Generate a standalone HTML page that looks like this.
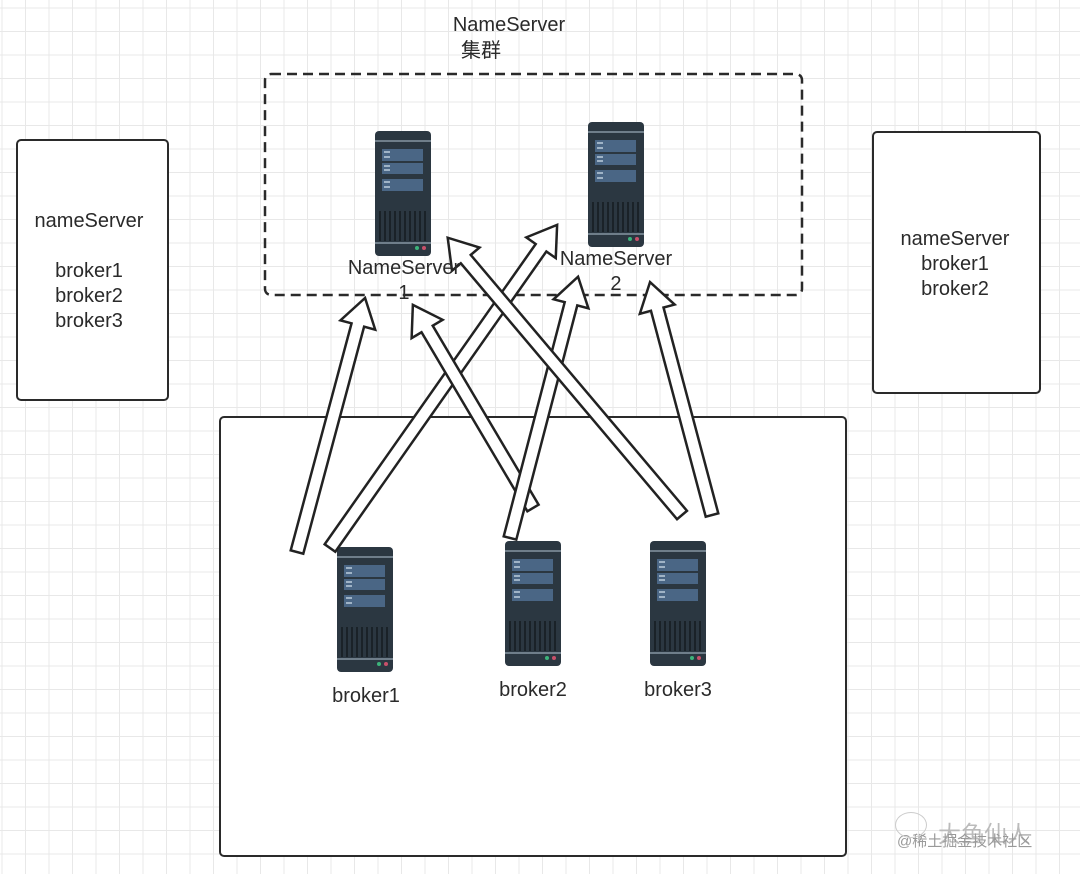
<!DOCTYPE html>
<html><head><meta charset="utf-8"><style>
html,body{margin:0;padding:0;}
body{width:1080px;height:874px;position:relative;overflow:hidden;background:#fff;
background-image:linear-gradient(#e8e8e8 1px,transparent 1px),linear-gradient(90deg,#e8e8e8 1px,transparent 1px);
background-size:23.5px 23.5px;background-position:1.5px 7.5px;
font-family:"Liberation Sans","Noto Sans CJK SC",sans-serif;color:#2a2a2a;}
.box{position:absolute;border:2px solid #2a2a2a;border-radius:5px;background:#fff;box-sizing:border-box;}
.t{position:absolute;font-size:20px;text-align:center;white-space:nowrap;line-height:25px;transform:translateX(-50%);}
svg{position:absolute;left:0;top:0;}
</style></head><body>
<div class="box" style="left:16px;top:139px;width:153px;height:262px"></div>
<div class="box" style="left:872px;top:131px;width:169px;height:263px"></div>
<div class="box" style="left:219px;top:416px;width:628px;height:441px"></div>
<svg width="1080" height="874" viewBox="0 0 1080 874">
<defs>
<symbol id="srv" viewBox="0 0 56 125">
<rect x="0" y="0" width="56" height="125" rx="4" fill="#2b3741"/>
<rect x="0" y="9" width="56" height="2" fill="#6f7e8a"/>
<rect x="7" y="18" width="41" height="12" fill="#4a6685"/>
<rect x="7" y="32" width="41" height="11" fill="#4a6685"/>
<rect x="7" y="48" width="41" height="12" fill="#4a6685"/>
<g fill="#9fb3c6"><rect x="9" y="20" width="6" height="2"/><rect x="9" y="25" width="6" height="2"/><rect x="9" y="34" width="6" height="2"/><rect x="9" y="38" width="6" height="2"/><rect x="9" y="50" width="6" height="2"/><rect x="9" y="55" width="6" height="2"/></g>
<g stroke="#141b21" stroke-width="1.5"><line x1="5" y1="80" x2="5" y2="110"/><line x1="10" y1="80" x2="10" y2="110"/><line x1="15" y1="80" x2="15" y2="110"/><line x1="20" y1="80" x2="20" y2="110"/><line x1="25" y1="80" x2="25" y2="110"/><line x1="30" y1="80" x2="30" y2="110"/><line x1="35" y1="80" x2="35" y2="110"/><line x1="40" y1="80" x2="40" y2="110"/><line x1="45" y1="80" x2="45" y2="110"/><line x1="50" y1="80" x2="50" y2="110"/></g>
<rect x="0" y="111" width="56" height="2" fill="#6f7e8a"/>
<circle cx="42" cy="117" r="2" fill="#3cb37a"/><circle cx="49" cy="117" r="2" fill="#c8506a"/>
</symbol>
</defs>
<rect x="265" y="74" width="537" height="221" rx="6" fill="none" stroke="#2a2a2a" stroke-width="2.5" stroke-dasharray="10,6"/>
<use href="#srv" x="375" y="131" width="56" height="125"/>
<use href="#srv" x="588" y="122" width="56" height="125"/>
<use href="#srv" x="337" y="547" width="56" height="125"/>
<use href="#srv" x="505" y="541" width="56" height="125"/>
<use href="#srv" x="650" y="541" width="56" height="125"/>
<g fill="#fff" stroke="#222" stroke-width="2.5" stroke-linejoin="miter">
<g transform="translate(297,552) rotate(-75)"><polygon points="0,-6.5 235,-6.5 235,-18 263,0 235,18 235,6.5 0,6.5"/></g>
<g transform="translate(330,548) rotate(-54.9)"><polygon points="0,-6.5 367,-6.5 367,-18 395,0 367,18 367,6.5 0,6.5"/></g>
<g transform="translate(533,508) rotate(-120.6)"><polygon points="0,-6.5 208,-6.5 208,-18 236,0 208,18 208,6.5 0,6.5"/></g>
<g transform="translate(510,538) rotate(-75.4)"><polygon points="0,-6.5 242,-6.5 242,-18 270,0 242,18 242,6.5 0,6.5"/></g>
<g transform="translate(682,515) rotate(-130.2)"><polygon points="0,-6.5 335,-6.5 335,-18 363,0 335,18 335,6.5 0,6.5"/></g>
<g transform="translate(712,515) rotate(-104.9)"><polygon points="0,-6.5 213,-6.5 213,-18 241,0 213,18 213,6.5 0,6.5"/></g>
</g>
</svg>
<div class="t" style="left:509px;top:13px;">NameServer</div>
<div style="position:absolute;left:461px;top:39px;font-size:20px;line-height:25px;">集群</div>
<div class="t" style="left:404px;top:256px;">NameServer<br>1</div>
<div class="t" style="left:616px;top:247px;">NameServer<br>2</div>
<div class="t" style="left:366px;top:684px;">broker1</div>
<div class="t" style="left:533px;top:678px;">broker2</div>
<div class="t" style="left:678px;top:678px;">broker3</div>
<div class="t" style="left:89px;top:209px;">nameServer<br><br>broker1<br>broker2<br>broker3</div>
<div class="t" style="left:955px;top:227px;">nameServer<br>broker1<br>broker2</div>
<div style="position:absolute;left:938px;top:815px;font-size:23px;color:#bbb;">大鱼仙人</div>
<div style="position:absolute;left:897px;top:830px;font-size:15px;color:#999;">@稀土掘金技术社区</div>
<div style="position:absolute;left:895px;top:812px;width:30px;height:24px;border:1.5px solid #ccc;border-radius:50%;"></div>
</body></html>
